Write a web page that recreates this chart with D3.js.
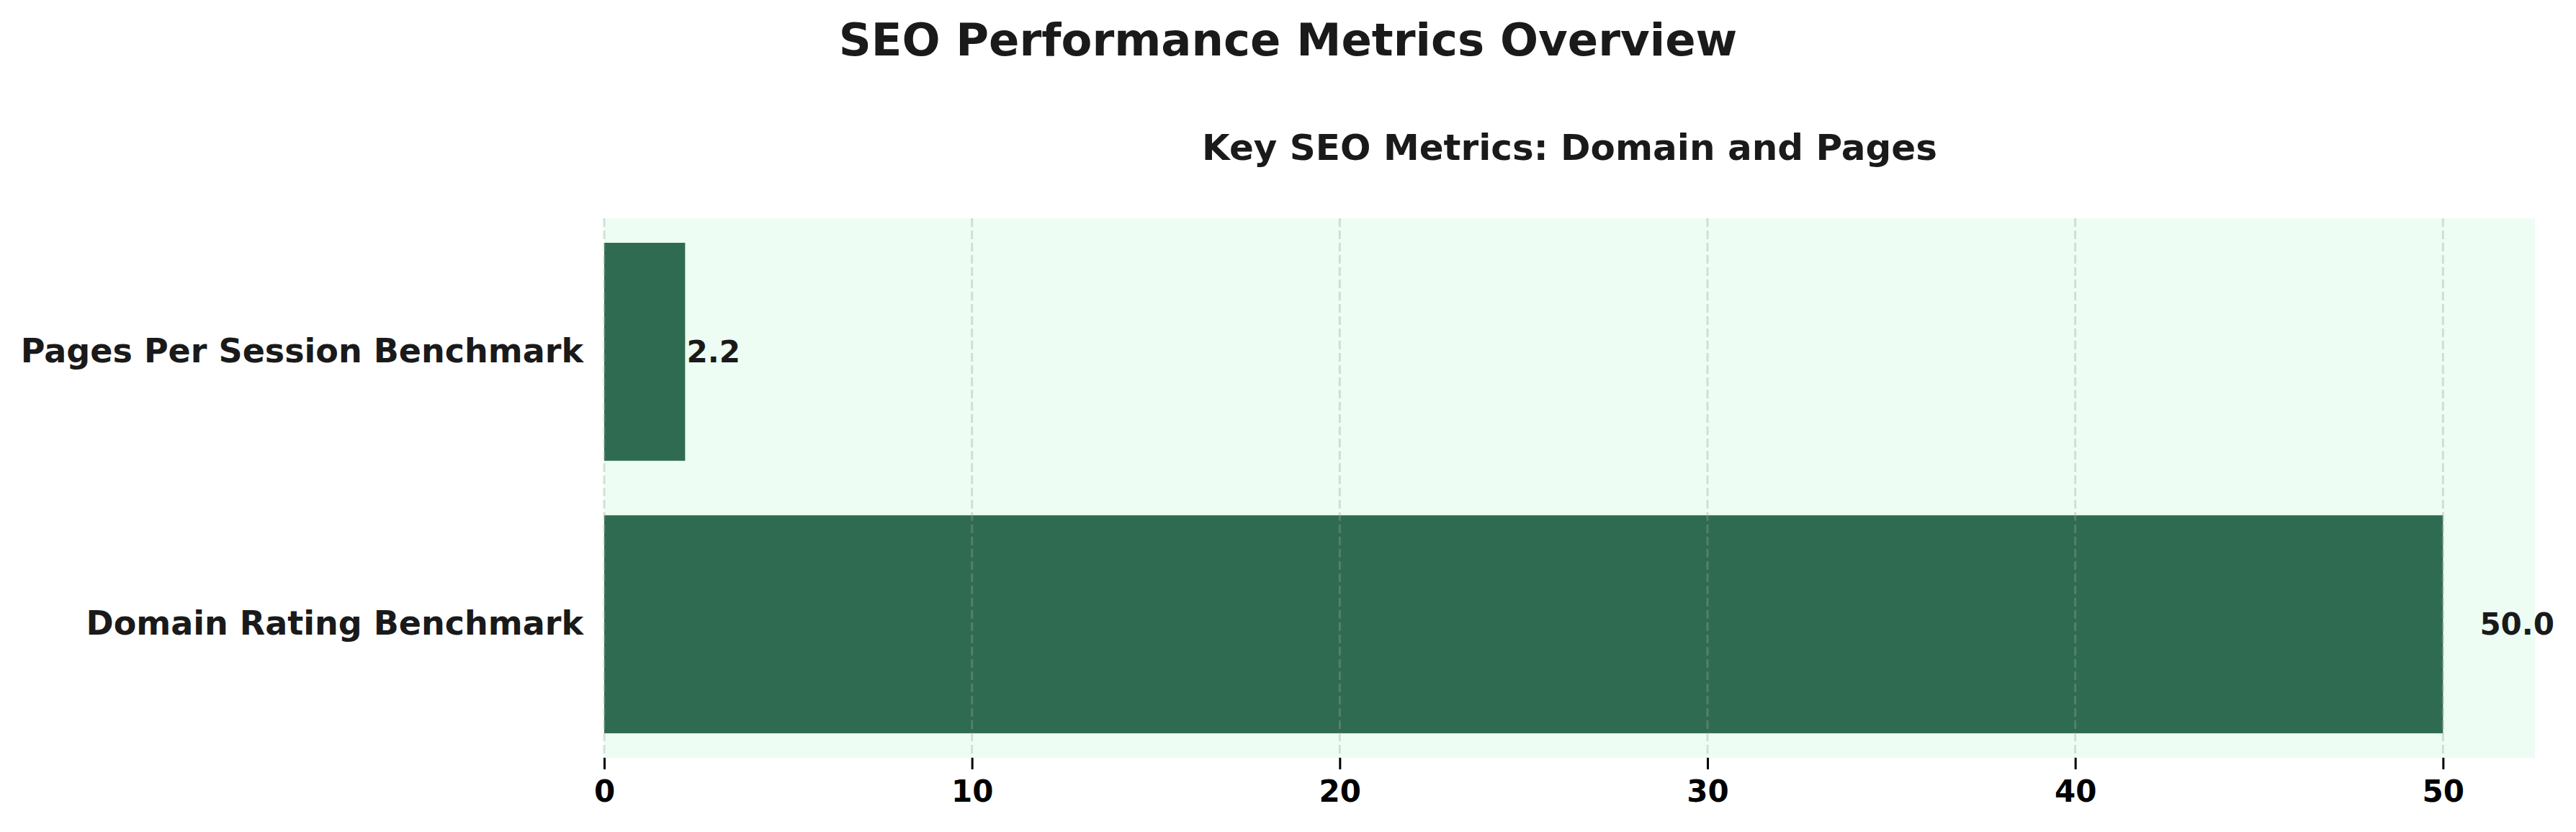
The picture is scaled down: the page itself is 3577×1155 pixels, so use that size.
<!DOCTYPE html>
<html>
<head>
<meta charset="utf-8">
<script src="https://cdn.jsdelivr.net/npm/d3@7"></script>
<style>
  html, body { margin: 0; padding: 0; background: #ffffff; }
  svg { display: block; }
  text { font-family: "DejaVu Sans", sans-serif; font-weight: bold; }
</style>
</head>
<body>
<script>
// ---- data ----
const categories = ["Domain Rating Benchmark", "Pages Per Session Benchmark"];
const values = [50.0, 2.2];
const xTicks = [0, 10, 20, 30, 40, 50];
const suptitle = "SEO Performance Metrics Overview";
const subtitle = "Key SEO Metrics: Domain and Pages";

const W = 3577, H = 1155;
const plot = { left: 839, right: 3520, top: 303, bottom: 1052 };

const svg = d3.select("body").append("svg")
  .attr("width", W).attr("height", H);

svg.append("rect").attr("width", W).attr("height", H).attr("fill", "#ffffff");

const x = d3.scaleLinear().domain([0, 52.5]).range([plot.left, plot.right]);
// bottom-to-top order like matplotlib barh
const y = d3.scaleBand().domain(categories).range([plot.bottom, plot.top])
  .paddingInner(0.2).paddingOuter(0.09);

// plot background
svg.append("rect")
  .attr("x", plot.left).attr("y", plot.top)
  .attr("width", plot.right - plot.left).attr("height", plot.bottom - plot.top)
  .attr("fill", "#edfdf3");

// bars
svg.append("g").selectAll("rect")
  .data(categories.map((c, i) => ({ c, v: values[i] })))
  .join("rect")
  .attr("x", x(0))
  .attr("y", d => y(d.c))
  .attr("width", d => x(d.v) - x(0))
  .attr("height", y.bandwidth())
  .attr("fill", "#2e6b51");

// grid (drawn above bars)
svg.append("g").selectAll("line")
  .data(xTicks)
  .join("line")
  .attr("x1", d => x(d)).attr("x2", d => x(d))
  .attr("y1", plot.top).attr("y2", plot.bottom)
  .attr("stroke", "#9aa39e")
  .attr("stroke-opacity", 0.35)
  .attr("stroke-width", 3)
  .attr("stroke-dasharray", "12,5");

// x axis
const xAxis = d3.axisBottom(x).tickValues(xTicks).tickFormat(d3.format("d"))
  .tickSize(16).tickPadding(15);
const gx = svg.append("g").attr("transform", `translate(0,${plot.bottom})`).call(xAxis);
gx.select(".domain").remove();
gx.selectAll(".tick line").attr("stroke", "#000").attr("stroke-width", 3);
gx.selectAll(".tick text")
  .attr("fill", "#000")
  .attr("font-size", 42)
  .attr("font-family", "DejaVu Sans")
  .attr("font-weight", "bold");

// y axis (no tick marks)
const yAxis = d3.axisLeft(y).tickSize(0).tickPadding(29);
const gy = svg.append("g").attr("transform", `translate(${plot.left},0)`).call(yAxis);
gy.select(".domain").remove();
gy.selectAll(".tick text")
  .attr("fill", "#1a1a1a")
  .attr("font-size", 46)
  .attr("font-family", "DejaVu Sans")
  .attr("font-weight", "bold");

// value labels
svg.append("g").selectAll("text")
  .data(categories.map((c, i) => ({ c, v: values[i] })))
  .join("text")
  .attr("x", d => x(d.v * 1.02))
  .attr("y", d => y(d.c) + y.bandwidth() / 2)
  .attr("dominant-baseline", "central")
  .attr("text-anchor", "start")
  .attr("font-size", 42)
  .attr("fill", "#1a1a1a")
  .text(d => d.v.toFixed(1));

// titles
svg.append("text")
  .attr("x", W / 2).attr("y", 55)
  .attr("text-anchor", "middle").attr("dominant-baseline", "central")
  .attr("font-size", 62.5).attr("fill", "#1a1a1a")
  .text(suptitle);

svg.append("text")
  .attr("x", (plot.left + plot.right) / 2).attr("y", 205)
  .attr("text-anchor", "middle").attr("dominant-baseline", "central")
  .attr("font-size", 50).attr("fill", "#1a1a1a")
  .text(subtitle);
</script>
</body>
</html>
